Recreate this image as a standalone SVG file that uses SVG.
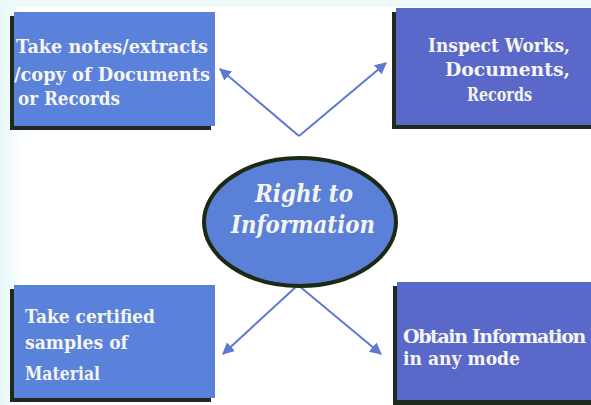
<svg xmlns="http://www.w3.org/2000/svg" width="591" height="405" viewBox="0 0 591 405">
<defs>
<style>
.shadow{fill:#1e2a1c}
.box{fill:#5b82da}
.box2{fill:#5a68c9}
text{font-family:'DejaVu Serif','Liberation Serif',serif}
.t{font-weight:bold;font-size:19px;fill:#f5f5f0}
.c{font-weight:bold;font-style:italic;font-size:25px;fill:#f5f5f0}
.conn{stroke:#5f78d2;stroke-width:2;fill:none;marker-end:url(#ah)}
</style>
<marker id="ah" viewBox="0 0 10 10" refX="9" refY="5" markerWidth="6" markerHeight="6" markerUnits="strokeWidth" orient="auto">
<path d="M0,0 L10,5 L0,10 z" fill="#5f78d2"/>
</marker>
<linearGradient id="bg" x1="0" y1="0" x2="1" y2="0">
<stop offset="0" stop-color="#e6f6f8"/>
<stop offset="0.04" stop-color="#ffffff"/>
</linearGradient>
</defs>
<rect x="0" y="0" width="591" height="405" fill="url(#bg)"/>
<rect x="0" y="0" width="591" height="7" fill="#eef9fa"/>

<g id="connectors">
<path class="conn" d="M299,136 L220,69"/>
<path class="conn" d="M299,136 L386,63"/>
<path class="conn" d="M298,285 L223,354"/>
<path class="conn" d="M298,285 L381,354"/>
</g>

<g id="node-notes">
<rect class="shadow" x="10" y="16" width="201" height="114"/>
<rect class="box" x="14" y="12" width="201" height="114"/>
<text class="t" x="16" y="53" textLength="192" lengthAdjust="spacingAndGlyphs">Take notes/extracts</text>
<text class="t" x="14" y="81" textLength="196" lengthAdjust="spacingAndGlyphs">/copy of Documents</text>
<text class="t" x="18" y="105" textLength="102" lengthAdjust="spacingAndGlyphs">or Records</text>
</g>

<g id="node-inspect">
<rect class="shadow" x="392" y="12" width="199" height="117"/>
<rect class="box2" x="396" y="8" width="195" height="117"/>
<text class="t" x="428" y="52" textLength="142" lengthAdjust="spacingAndGlyphs">Inspect Works,</text>
<text class="t" x="445" y="76" textLength="125" lengthAdjust="spacingAndGlyphs">Documents,</text>
<text class="t" x="467" y="101" textLength="65" lengthAdjust="spacingAndGlyphs">Records</text>
</g>

<g id="node-rti">
<ellipse cx="300" cy="222" rx="96" ry="64" fill="#5b80d8" stroke="#1c2a14" stroke-width="4"/>
<text class="c" x="255" y="202" textLength="98" lengthAdjust="spacingAndGlyphs">Right to</text>
<text class="c" x="231" y="233" textLength="144" lengthAdjust="spacingAndGlyphs">Information</text>
</g>

<g id="node-samples">
<rect class="shadow" x="10" y="289" width="201" height="113"/>
<rect class="box" x="14" y="285" width="201" height="113"/>
<text class="t" x="25" y="323" textLength="130" lengthAdjust="spacingAndGlyphs">Take certified</text>
<text class="t" x="25" y="349" textLength="103" lengthAdjust="spacingAndGlyphs">samples of</text>
<text class="t" x="25" y="380" textLength="75" lengthAdjust="spacingAndGlyphs">Material</text>
</g>

<g id="node-obtain">
<rect class="shadow" x="393" y="286" width="198" height="119"/>
<rect class="box2" x="397" y="282" width="194" height="118"/>
<text class="t" x="403" y="343" font-size="17" letter-spacing="-1.4">Obtain Information</text>
<text class="t" x="403" y="365" textLength="117" lengthAdjust="spacingAndGlyphs">in any mode</text>
</g>
</svg>
